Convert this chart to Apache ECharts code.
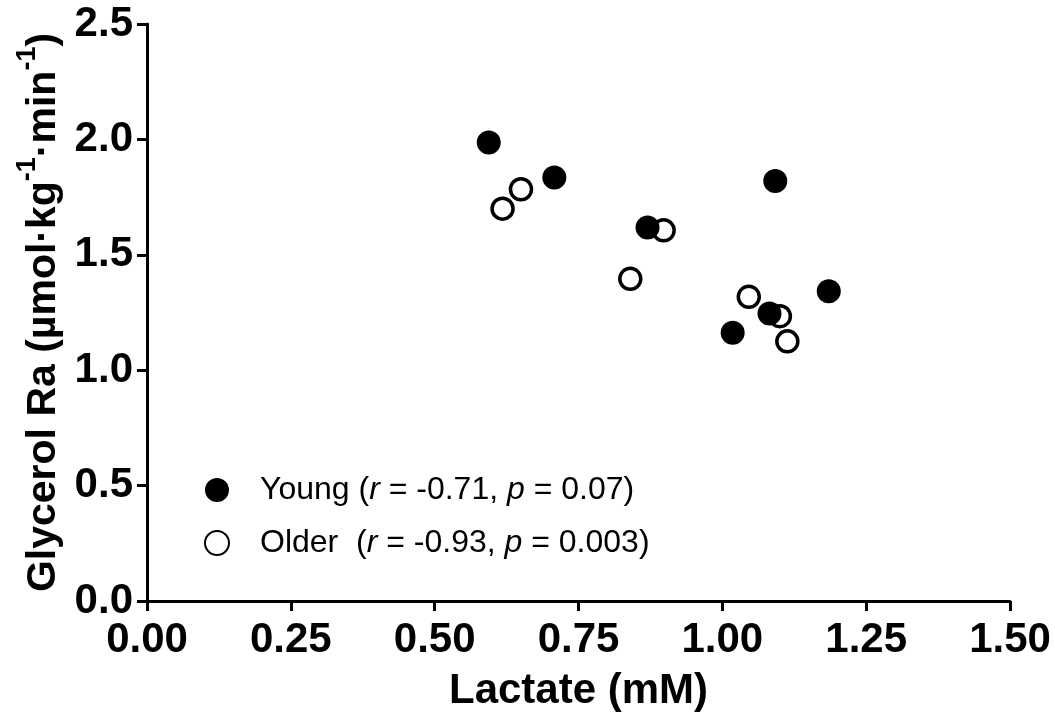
<!DOCTYPE html>
<html>
<head>
<meta charset="utf-8">
<script src="https://cdn.jsdelivr.net/npm/echarts@6/dist/echarts.min.js"></script>
<style>
html,body{margin:0;padding:0;background:#fff;}
#chart{width:1055px;height:727px;}
</style>
</head>
<body>
<div id="chart"></div>
<script>
const youngX = [0.594, 0.708, 0.870, 1.092, 1.185, 1.082, 1.018];
const youngY = [1.987, 1.835, 1.618, 1.820, 1.342, 1.246, 1.162];
const olderX = [0.618, 0.650, 0.898, 0.840, 1.046, 1.100, 1.113];
const olderY = [1.700, 1.784, 1.606, 1.396, 1.318, 1.234, 1.125];
const xTicks = [0, 0.25, 0.5, 0.75, 1.0, 1.25, 1.5];
const yTicks = [0, 0.5, 1.0, 1.5, 2.0, 2.5];
const legendText = {
  'Young': '{t|Young (}{i|r}{t| = -0.71, }{i|p}{t| = 0.07)}',
  'Older': '{t|Older  (}{i|r}{t| = -0.93, }{i|p}{t| = 0.003)}'
};

const FONT = 'Liberation Sans, Arial, sans-serif';
const chart = echarts.init(document.getElementById('chart'));
const pair = (xs, ys) => xs.map((x, i) => [x, ys[i]]);

chart.setOption({
  animation: false,
  backgroundColor: '#ffffff',
  grid: {left: 147, right: 45, top: 24, bottom: 126, containLabel: false},
  legend: {
    data: ['Young', 'Older'],
    orient: 'vertical',
    left: 199,
    top: 469,
    itemWidth: 24,
    itemHeight: 24,
    itemGap: 21,
    formatter: n => legendText[n],
    textStyle: {
      fontFamily: FONT,
      color: '#000',
      rich: {
        t: {fontSize: 32, lineHeight: 34, fontFamily: FONT, color: '#000'},
        i: {fontSize: 32, lineHeight: 34, fontFamily: FONT, color: '#000', fontStyle: 'italic'}
      },
      padding: [0, 0, 0, 26]
    }
  },
  xAxis: {
    type: 'value',
    min: 0, max: 1.5, interval: 0.25,
    name: 'Lactate (mM)',
    nameLocation: 'middle',
    nameGap: 69,
    nameTextStyle: {fontFamily: FONT, fontWeight: 'bold', fontSize: 42, color: '#000'},
    axisLine: {show: true, onZero: false, lineStyle: {color: '#000', width: 3}},
    axisTick: {show: true, inside: false, length: 10, lineStyle: {color: '#000', width: 3}},
    axisLabel: {
      fontFamily: FONT, fontWeight: 'bold', fontSize: 42, color: '#000', margin: 18,
      formatter: v => {
        const t = xTicks.find(k => Math.abs(k - v) < 1e-9);
        return (t !== undefined ? t : v).toFixed(2);
      }
    },
    splitLine: {show: false}
  },
  yAxis: {
    type: 'value',
    min: 0, max: 2.5, interval: 0.5,
    name: '{a|Glycerol Ra (µmol·kg}{s|-1}{a|·min}{s|-1}{a|)}',
    nameLocation: 'middle',
    nameGap: 76,
    nameRotate: 90,
    nameTextStyle: {
      fontFamily: FONT, fontWeight: 'bold', fontSize: 42, color: '#000',
      rich: {
        a: {fontFamily: FONT, fontWeight: 'bold', fontSize: 41, color: '#000', lineHeight: 50, verticalAlign: 'bottom'},
        s: {fontFamily: FONT, fontWeight: 'bold', fontSize: 27, color: '#000', lineHeight: 50, verticalAlign: 'top'}
      }
    },
    axisLine: {show: true, onZero: false, lineStyle: {color: '#000', width: 3}},
    axisTick: {show: true, inside: false, length: 10, lineStyle: {color: '#000', width: 3}},
    axisLabel: {
      fontFamily: FONT, fontWeight: 'bold', fontSize: 42, color: '#000', margin: 14,
      formatter: v => {
        const t = yTicks.find(k => Math.abs(k - v) < 1e-9);
        return (t !== undefined ? t : v).toFixed(1);
      }
    },
    splitLine: {show: false}
  },
  series: [
    {
      name: 'Older',
      type: 'scatter',
      symbol: 'circle',
      symbolSize: 21,
      z: 2,
      itemStyle: {color: '#ffffff', borderColor: '#000', borderWidth: 3.5, opacity: 1},
      data: pair(olderX, olderY)
    },
    {
      name: 'Young',
      type: 'scatter',
      symbol: 'circle',
      symbolSize: 24,
      z: 3,
      itemStyle: {color: '#000', borderColor: '#000', borderWidth: 0, opacity: 1},
      data: pair(youngX, youngY)
    }
  ]
});
</script>
</body>
</html>
